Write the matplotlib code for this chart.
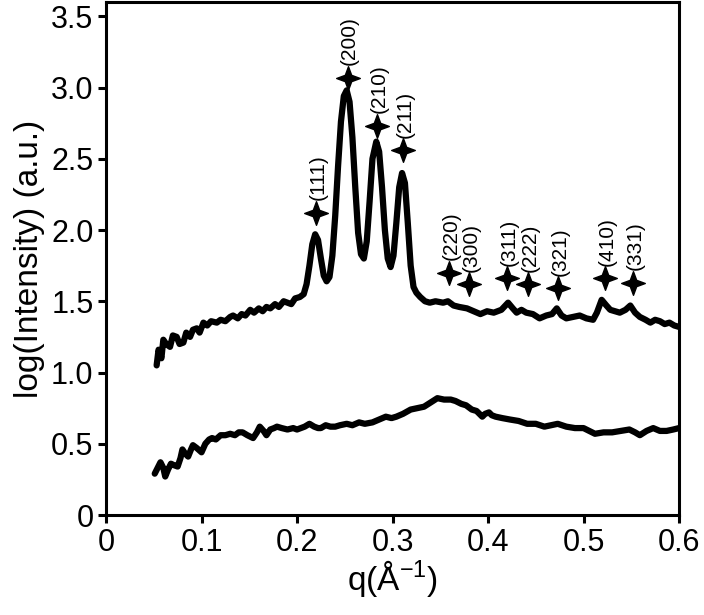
import matplotlib
matplotlib.use("Agg")
import matplotlib.pyplot as plt
from matplotlib.path import Path

plt.rcParams['font.family'] = ['Liberation Sans', 'DejaVu Sans']
plt.rcParams['mathtext.default'] = 'regular'

# Upper curve (crystalline sample)
q_upper = [0.053, 0.055, 0.058, 0.060, 0.063, 0.067, 0.070, 0.074, 0.077, 0.081,
           0.084, 0.088, 0.091, 0.095, 0.098, 0.102, 0.106, 0.110, 0.116, 0.120,
           0.125, 0.130, 0.133, 0.138, 0.142, 0.146, 0.151, 0.155, 0.160, 0.164,
           0.168, 0.172, 0.177, 0.181, 0.186, 0.190, 0.194, 0.198, 0.203, 0.207,
           0.210, 0.213, 0.216, 0.219, 0.222, 0.225, 0.228, 0.231, 0.234, 0.237,
           0.240, 0.243, 0.246, 0.249, 0.252, 0.255, 0.258, 0.261, 0.264, 0.267,
           0.270, 0.273, 0.276, 0.279, 0.283, 0.286, 0.289, 0.292, 0.295, 0.298,
           0.301, 0.304, 0.307, 0.310, 0.313, 0.316, 0.319, 0.322, 0.325, 0.329,
           0.334, 0.339, 0.345, 0.353, 0.358, 0.364, 0.370, 0.378, 0.385, 0.392,
           0.399, 0.406, 0.414, 0.421, 0.426, 0.430, 0.435, 0.440, 0.447, 0.454,
           0.461, 0.467, 0.472, 0.477, 0.482, 0.489, 0.496, 0.503, 0.510, 0.514,
           0.519, 0.524, 0.528, 0.533, 0.538, 0.544, 0.549, 0.554, 0.559, 0.565,
           0.570, 0.575, 0.580, 0.585, 0.590, 0.595, 0.600]
y_upper = [1.05, 1.16, 1.10, 1.23, 1.20, 1.18, 1.26, 1.25, 1.20, 1.21,
           1.28, 1.25, 1.30, 1.31, 1.28, 1.35, 1.33, 1.36, 1.35, 1.37,
           1.36, 1.39, 1.40, 1.38, 1.41, 1.40, 1.44, 1.42, 1.45, 1.43,
           1.46, 1.45, 1.48, 1.46, 1.50, 1.49, 1.48, 1.52, 1.53, 1.55,
           1.62, 1.75, 1.90, 1.97, 1.93, 1.80, 1.68, 1.64, 1.67, 1.82,
           2.10, 2.45, 2.76, 2.94, 2.98, 2.90, 2.65, 2.30, 1.98, 1.83,
           1.80, 1.92, 2.20, 2.50, 2.62, 2.55, 2.30, 2.00, 1.80, 1.74,
           1.82, 2.05, 2.30, 2.40, 2.33, 2.05, 1.75, 1.60, 1.56, 1.53,
           1.50, 1.49, 1.50, 1.49, 1.50, 1.47, 1.46, 1.45, 1.43, 1.41,
           1.43, 1.42, 1.44, 1.49, 1.45, 1.42, 1.44, 1.42, 1.41, 1.38,
           1.40, 1.41, 1.45, 1.40, 1.38, 1.39, 1.40, 1.38, 1.37, 1.42,
           1.51, 1.47, 1.44, 1.43, 1.42, 1.44, 1.47, 1.42, 1.39, 1.37,
           1.35, 1.37, 1.36, 1.34, 1.35, 1.33, 1.32]

# Lower curve (amorphous sample)
q_lower = [0.051, 0.054, 0.057, 0.060, 0.062, 0.065, 0.068, 0.071, 0.075, 0.078,
           0.080, 0.083, 0.086, 0.089, 0.091, 0.095, 0.100, 0.104, 0.108, 0.111,
           0.115, 0.120, 0.125, 0.130, 0.135, 0.139, 0.143, 0.148, 0.154, 0.158,
           0.161, 0.165, 0.168, 0.172, 0.176, 0.179, 0.184, 0.190, 0.196, 0.200,
           0.204, 0.208, 0.213, 0.218, 0.222, 0.225, 0.230, 0.235, 0.240, 0.245,
           0.252, 0.258, 0.265, 0.271, 0.279, 0.286, 0.293, 0.299, 0.304, 0.311,
           0.319, 0.326, 0.333, 0.340, 0.347, 0.354, 0.361, 0.366, 0.372, 0.377,
           0.383, 0.388, 0.394, 0.397, 0.401, 0.404, 0.408, 0.415, 0.423, 0.432,
           0.441, 0.450, 0.459, 0.466, 0.473, 0.482, 0.491, 0.500, 0.506, 0.512,
           0.521, 0.530, 0.539, 0.548, 0.554, 0.559, 0.566, 0.573, 0.580, 0.587,
           0.594, 0.600]
y_lower = [0.29, 0.33, 0.37, 0.33, 0.27, 0.32, 0.36, 0.35, 0.34, 0.40,
           0.46, 0.43, 0.41, 0.46, 0.49, 0.47, 0.44, 0.50, 0.53, 0.54,
           0.53, 0.56, 0.56, 0.57, 0.56, 0.58, 0.58, 0.56, 0.54, 0.58,
           0.62, 0.59, 0.56, 0.60, 0.61, 0.62, 0.61, 0.60, 0.61, 0.60,
           0.61, 0.62, 0.64, 0.62, 0.61, 0.61, 0.63, 0.62, 0.62, 0.63,
           0.64, 0.63, 0.65, 0.64, 0.65, 0.67, 0.69, 0.68, 0.69, 0.71,
           0.74, 0.75, 0.76, 0.79, 0.82, 0.81, 0.81, 0.80, 0.78, 0.77,
           0.74, 0.73, 0.69, 0.71, 0.72, 0.70, 0.69, 0.68, 0.67, 0.66,
           0.64, 0.64, 0.62, 0.63, 0.64, 0.62, 0.61, 0.61, 0.59, 0.57,
           0.58, 0.58, 0.59, 0.60, 0.58, 0.56, 0.59, 0.61, 0.59, 0.59,
           0.60, 0.61]

# Reflection markers
hkl_labels = ['(111)', '(200)', '(210)', '(211)', '(220)', '(300)',
              '(311)', '(222)', '(321)', '(410)', '(331)']
hkl_q = [0.220, 0.253, 0.284, 0.311, 0.359, 0.380, 0.420, 0.442, 0.473, 0.523, 0.552]
hkl_y = [2.12, 3.07, 2.73, 2.56, 1.70, 1.62, 1.66, 1.62, 1.59, 1.66, 1.63]

x_ticks = [0, 0.1, 0.2, 0.3, 0.4, 0.5, 0.6]
x_tick_labels = ['0', '0.1', '0.2', '0.3', '0.4', '0.5', '0.6']
y_ticks = [0, 0.5, 1.0, 1.5, 2.0, 2.5, 3.0, 3.5]
y_tick_labels = ['0', '0.5', '1.0', '1.5', '2.0', '2.5', '3.0', '3.5']

star = Path([(0, 1), (0.27, 0.27), (1, 0), (0.27, -0.27), (0, -1),
             (-0.27, -0.27), (-1, 0), (-0.27, 0.27), (0, 1)],
            [Path.MOVETO] + [Path.LINETO] * 7 + [Path.CLOSEPOLY])

fig = plt.figure(figsize=(7.04, 6.15), dpi=100)
ax = fig.add_axes([0.1506, 0.1626, 0.8139, 0.8341])

ax.plot(q_upper, y_upper, color='black', lw=4.5, solid_joinstyle='round', solid_capstyle='round')
ax.plot(q_lower, y_lower, color='black', lw=4.5, solid_joinstyle='round', solid_capstyle='round')

ax.plot(hkl_q, hkl_y, linestyle='none', marker=star, markersize=17, color='black')
for lab, xq, yv in zip(hkl_labels, hkl_q, hkl_y):
    ax.annotate(lab, (xq, yv), xytext=(1.5, 9), textcoords='offset points',
                rotation=90, ha='center', va='bottom', fontsize=15)

ax.set_xlim(0, 0.6)
ax.set_ylim(0, 3.6)
ax.set_xticks(x_ticks)
ax.set_xticklabels(x_tick_labels)
ax.set_yticks(y_ticks)
ax.set_yticklabels(y_tick_labels)
ax.tick_params(direction='out', length=6, width=2.2, labelsize=22, pad=3)
for s in ax.spines.values():
    s.set_linewidth(2.2)

ax.set_xlabel(r'q(Å$^{-1}$)', fontsize=24, labelpad=0)
ax.set_ylabel('log(Intensity) (a.u.)', fontsize=24, labelpad=4)

fig.savefig('out.png', dpi=100)
